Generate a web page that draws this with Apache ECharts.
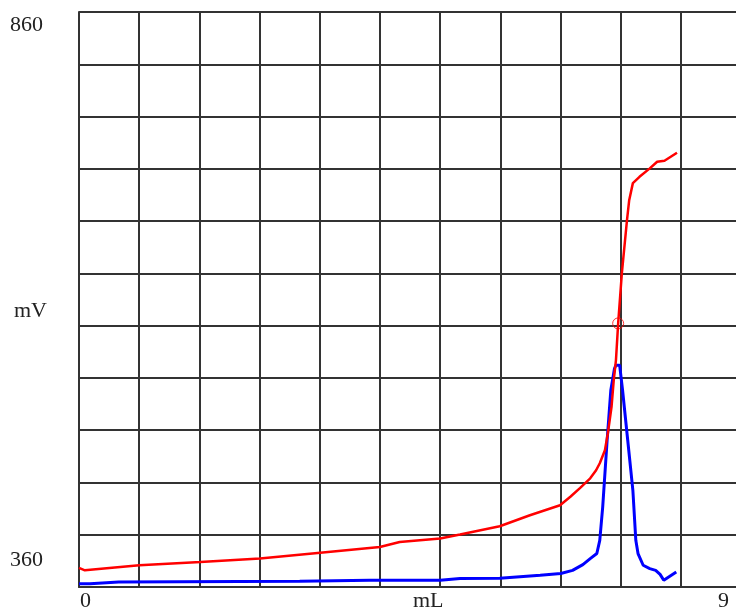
<!DOCTYPE html>
<html>
<head>
<meta charset="utf-8">
<script src="https://cdn.jsdelivr.net/npm/echarts@6/dist/echarts.min.js"></script>
<style>
html,body{margin:0;padding:0;background:#fff;overflow:hidden;width:736px;height:611px;}
#chart{width:760px;height:611px;}
</style>
</head>
<body>
<div id="chart"></div>
<script>
// ---- data ----
var xMin = 0, xMax = 9;
var yMin = 360, yMax = 860;
var xDivisions = 11, yDivisions = 11;

var redX = [0, 0.08, 0.82, 1.65, 2.46, 3.28, 4.09, 4.36, 4.91, 5.18, 5.72, 6.13, 6.54, 6.68, 6.81, 6.95, 7.03, 7.08, 7.15, 7.19, 7.24, 7.27, 7.30, 7.33, 7.38, 7.45, 7.48, 7.53, 7.62, 7.76, 7.86, 7.96, 8.13];
var redY = [376.7, 374.5, 378.9, 381.8, 384.7, 389.8, 394.8, 399.2, 402.1, 405.6, 412.8, 422.4, 431.1, 438.5, 446, 454.5, 461.5, 467.6, 478.9, 493.7, 516.6, 539.8, 557.2, 589.2, 632.7, 679, 696.4, 711.2, 716.7, 724, 729.8, 730.6, 737.6];

var blueX = [0, 0.15, 0.54, 3.0, 3.95, 4.91, 5.18, 5.72, 6.27, 6.55, 6.71, 6.85, 6.95, 7.04, 7.08, 7.12, 7.18, 7.23, 7.28, 7.30, 7.35, 7.39, 7.46, 7.53, 7.57, 7.60, 7.67, 7.76, 7.84, 7.90, 7.95, 8.12];
var blueY = [362.8, 362.8, 364.4, 365, 365.8, 365.8, 367.3, 367.6, 370.2, 371.7, 374.5, 379.5, 384.7, 389.1, 400.6, 429.6, 487.6, 531.1, 550, 552.9, 552.9, 531.1, 487.6, 444.1, 400.6, 389.1, 378.9, 376, 374.5, 371, 365.8, 373];

var endPoint = [7.33, 589.2];

var yTickLabels = ['860', '360'];
var xTickLabels = ['0', '9'];
var yName = 'mV';
var xName = 'mL';

// ---- chart ----
function zip(a, b) { return a.map(function (v, i) { return [v, b[i]]; }); }

var chart = echarts.init(document.getElementById('chart'), null, {renderer: 'canvas', width: 760, height: 611});
var font = '"Liberation Serif", "DejaVu Serif", serif';
var txtColor = '#222';
var lineColor = '#333';

chart.setOption({
  animation: false,
  backgroundColor: '#fff',
  grid: {left: 79, top: 12, width: 662, height: 575, containLabel: false},
  xAxis: {
    type: 'value', min: xMin, max: xMax, interval: (xMax - xMin) / xDivisions,
    axisLine: {show: true, lineStyle: {color: lineColor, width: 2}},
    axisTick: {show: false},
    axisLabel: {show: false},
    splitLine: {show: true, lineStyle: {color: lineColor, width: 2}}
  },
  yAxis: {
    type: 'value', min: yMin, max: yMax, interval: (yMax - yMin) / yDivisions,
    axisLine: {show: true, lineStyle: {color: lineColor, width: 2}},
    axisTick: {show: false},
    axisLabel: {show: false},
    splitLine: {show: true, lineStyle: {color: lineColor, width: 2}}
  },
  graphic: [
    {type: 'text', left: 10, top: 14, style: {text: yTickLabels[0], font: '22px ' + font, fill: txtColor}},
    {type: 'text', left: 10, top: 549, style: {text: yTickLabels[1], font: '22px ' + font, fill: txtColor}},
    {type: 'text', left: 14, top: 300, style: {text: yName, font: '22px ' + font, fill: txtColor}},
    {type: 'text', left: 80, top: 590, style: {text: xTickLabels[0], font: '22px ' + font, fill: txtColor}},
    {type: 'text', left: 718, top: 590, style: {text: xTickLabels[1], font: '22px ' + font, fill: txtColor}},
    {type: 'text', left: 413, top: 590, style: {text: xName, font: '22px ' + font, fill: txtColor}}
  ],
  series: [
    {
      type: 'line', data: zip(blueX, blueY), showSymbol: false, smooth: false,
      lineStyle: {color: '#0000ff', width: 3}, z: 3
    },
    {
      type: 'line', data: zip(redX, redY), showSymbol: false, smooth: false,
      lineStyle: {color: '#ff0000', width: 2.5}, z: 4
    },
    {
      type: 'scatter', data: [endPoint], symbol: 'circle', symbolSize: 11,
      itemStyle: {color: 'rgba(0,0,0,0)', borderColor: '#ff0000', borderWidth: 1}, z: 5
    }
  ]
});
</script>
</body>
</html>
